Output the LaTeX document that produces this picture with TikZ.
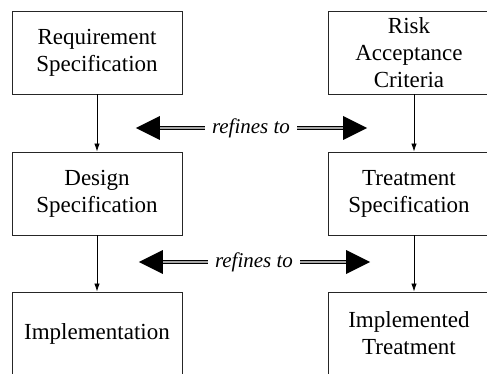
\documentclass[tikz,border=0pt]{standalone}
\usepackage{fontspec}
\setmainfont{Liberation Serif}
\usetikzlibrary{arrows.meta}
\begin{document}
\begin{tikzpicture}[x=1pt,y=-1pt,
  box/.style={draw=black!85, line width=0.9pt, minimum width=170pt, minimum height=83pt,
    inner sep=0pt, align=center, font=\fontsize{23}{27}\selectfont},
  rbox/.style={box, minimum width=162pt},
  conn/.style={draw=black, line width=0.8pt, -{Latex[length=8pt,width=5.5pt]}},
  reflabel/.style={inner sep=0pt, font=\fontsize{21}{25}\selectfont\itshape},
  shaft/.style={draw=black, double=black!35, double distance=1.3pt, line width=1.8pt},
  head/.style={fill=black}]
\useasboundingbox (0,0) rectangle (487,374);
\clip (0,0) rectangle (487,374);

% boxes
\node[box]  (req) at (97,52.5)  {Requirement\\Specification};
\node[rbox] (rac) at (409,52.5) {Risk\\Acceptance\\Criteria};
\node[box]  (des) at (97,193.5) {Design\\Specification};
\node[rbox] (trt) at (409,193.5) {Treatment\\Specification};
\node[box]  (imp) at (97,333.5) {Implementation};
\node[rbox] (itr) at (409,333.5) {Implemented\\Treatment};

% vertical connectors
\draw[conn] (req.south) -- (des.north);
\draw[conn] (des.south) -- (imp.north);
\draw[conn] ([xshift=5pt]rac.south) -- ([xshift=5pt]trt.north);
\draw[conn] ([xshift=5pt]trt.south) -- ([xshift=5pt]itr.north);

% refines-to arrows
\node[reflabel] (r1) at (251,128) {refines to};
\draw[shaft] ([xshift=-7pt]r1.west) -- ++(-47,0) coordinate (r1a);
\draw[shaft] ([xshift=7pt]r1.east) -- ++(48,0) coordinate (r1b);
\fill[head] ([xshift=2pt,yshift=-12pt]r1a) -- ++(-24,-12) -- ++(24,-12) -- cycle;
\fill[head] ([xshift=-2pt,yshift=-12pt]r1b) -- ++(24,-12) -- ++(-24,-12) -- cycle;

\node[reflabel] (r2) at (254,262) {refines to};
\draw[shaft] ([xshift=-7pt]r2.west) -- ++(-47,0) coordinate (r2a);
\draw[shaft] ([xshift=7pt]r2.east) -- ++(48,0) coordinate (r2b);
\fill[head] ([xshift=2pt,yshift=-12pt]r2a) -- ++(-24,-12) -- ++(24,-12) -- cycle;
\fill[head] ([xshift=-2pt,yshift=-12pt]r2b) -- ++(24,-12) -- ++(-24,-12) -- cycle;
\end{tikzpicture}
\end{document}
